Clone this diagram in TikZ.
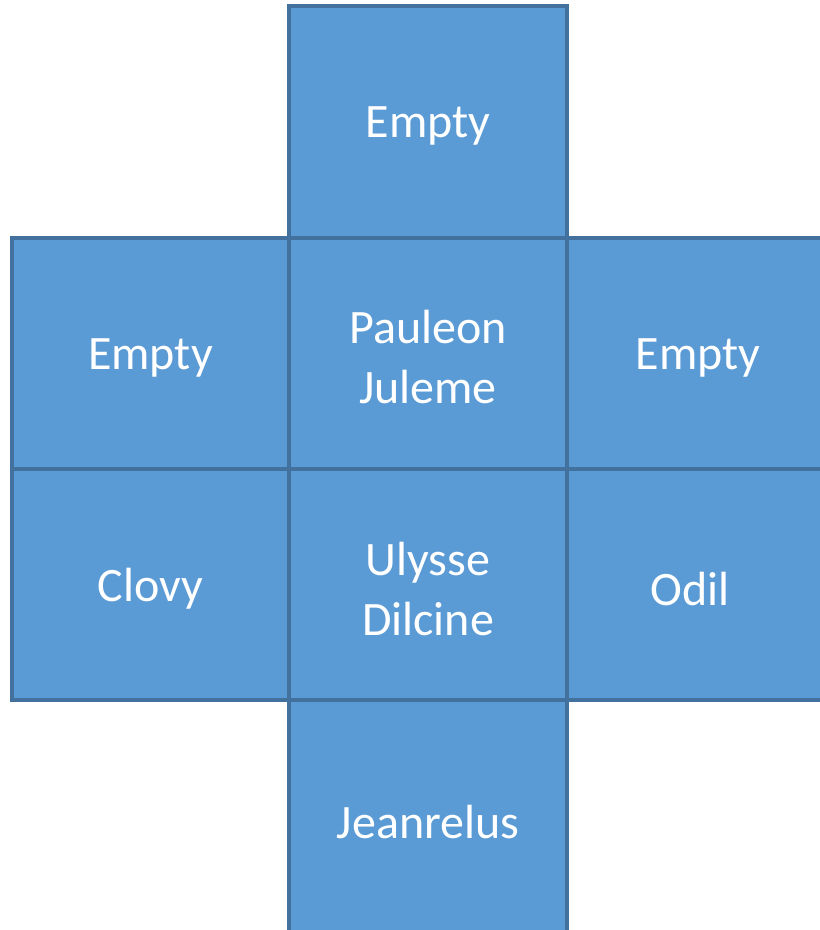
\documentclass[tikz,border=0pt]{standalone}
\usepackage{fontspec}
\setmainfont{Carlito}
\definecolor{cellfill}{HTML}{5B9BD5}
\definecolor{cellline}{HTML}{41719C}
\begin{document}
\begin{tikzpicture}[x=1pt,y=-1pt,
  cell/.style={draw=cellline, fill=cellfill, line width=3.2pt, inner sep=0pt},
  celltext/.style={text=white, align=center, inner sep=0pt, yshift=-4pt,
    font=\fontsize{48}{60}\selectfont}]
\useasboundingbox (0,0) rectangle (820,930);
\clip (0,0) rectangle (820,930);
\node[cell, minimum width=278pt, minimum height=232pt, label={[celltext]center:Empty}] (top) at (428,122) {};
\node[cell, minimum width=277pt, minimum height=231pt, label={[celltext]center:Empty}] (left1) at (150.5,353.5) {};
\node[cell, minimum width=278pt, minimum height=231pt, label={[celltext]center:Pauleon\\Juleme}] (mid1) at (428,353.5) {};
\node[cell, minimum width=262pt, minimum height=231pt, label={[celltext]center:Empty}] (right1) at (698,353.5) {};
\node[cell, minimum width=277pt, minimum height=231pt, label={[celltext]center:Clovy}] (left2) at (150.5,584.5) {};
\node[cell, minimum width=278pt, minimum height=231pt, label={[celltext]center:Ulysse\\Dilcine}] (mid2) at (428,584.5) {};
\node[cell, minimum width=262pt, minimum height=231pt, label={[celltext, xshift=-8pt]center:Odil}] (right2) at (698,584.5) {};
\node[cell, minimum width=278pt, minimum height=236pt, label={[celltext]center:Jeanrelus}] (bottom) at (428,818) {};
\end{tikzpicture}
\end{document}
